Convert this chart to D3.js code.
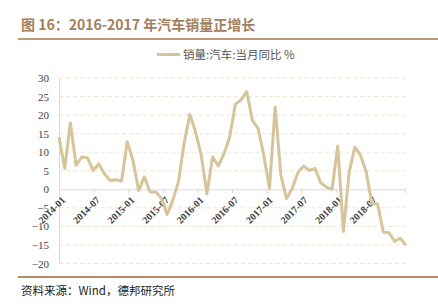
<!DOCTYPE html>
<html>
<head>
<meta charset="utf-8">
<script src="https://cdn.jsdelivr.net/npm/d3@7.9.0/dist/d3.min.js"></script>
<style>
  body { margin: 0; background: #fff; }
  svg { display: block; }
</style>
</head>
<body>
<svg id="chart" width="438" height="308"></svg>
<script>
// monthly car sales yoy (%), Dec 2013 - Jan 2019
const months = [
  '2013-12',
  '2014-01','2014-02','2014-03','2014-04','2014-05','2014-06','2014-07','2014-08','2014-09','2014-10','2014-11','2014-12',
  '2015-01','2015-02','2015-03','2015-04','2015-05','2015-06','2015-07','2015-08','2015-09','2015-10','2015-11','2015-12',
  '2016-01','2016-02','2016-03','2016-04','2016-05','2016-06','2016-07','2016-08','2016-09','2016-10','2016-11','2016-12',
  '2017-01','2017-02','2017-03','2017-04','2017-05','2017-06','2017-07','2017-08','2017-09','2017-10','2017-11','2017-12',
  '2018-01','2018-02','2018-03','2018-04','2018-05','2018-06','2018-07','2018-08','2018-09','2018-10','2018-11','2018-12',
  '2019-01'
];
const salesYoy = [
  14.1, 5.6, 17.9, 6.5, 8.7, 8.5, 5.1, 6.8, 4.1, 2.4, 2.6, 2.2,
  12.8, 7.8, -0.3, 3.3, -0.7, -0.7, -2.4, -6.8, -3.0, 2.0, 12.5, 20.2,
  15.5, 9.2, -1.2, 8.7, 6.3, 9.6, 14.1, 22.9, 24.1, 26.3, 18.6, 16.4,
  9.2, 0.2, 22.2, 3.8, -2.5, 0.2, 4.5, 6.2, 5.1, 5.6, 1.8, 0.6,
  0.0, 11.7, -11.4, 4.5, 11.4, 9.2, 4.7, -3.9, -3.9, -11.5, -11.7, -14.0,
  -13.2, -15.1
];
const tickLabels = ['2014-01','2014-07','2015-01','2015-07','2016-01','2016-07','2017-01','2017-07','2018-01','2018-07','2019-01'];
const yTicks = [-20, -15, -10, -5, 0, 5, 10, 15, 20, 25, 30];

const seriesName = '销量:汽车:当月同比 %';
const title = '图 16：2016-2017 年汽车销量正增长';
const source = '资料来源：Wind，德邦研究所';

const lineColor = '#d6c49b';
const brown = '#a3805c';
const serif = '"Liberation Serif", "DejaVu Serif", serif';
const cjk = '"Noto Sans CJK SC", sans-serif';

const svg = d3.select('#chart');
const plotL = 59, plotR = 405, plotT = 78, plotB = 263.5;

const x = d3.scalePoint(months, [plotL, 406]);
const xt = d3.scalePoint(tickLabels, [plotL, plotR]);
const y = d3.scaleLinear([-20, 30], [plotB, plotT]);

// title + rules
svg.append('text')
  .attr('x', 21).attr('y', 30)
  .attr('font-family', cjk).attr('font-weight', 'bold')
  .attr('font-size', 14).attr('fill', brown)
  .text(title);
svg.append('line')
  .attr('x1', 18).attr('x2', 438).attr('y1', 39).attr('y2', 39)
  .attr('stroke', '#b89a7a').attr('stroke-width', 2);
svg.append('line')
  .attr('x1', 18).attr('x2', 438).attr('y1', 277).attr('y2', 277)
  .attr('stroke', '#b08c6c').attr('stroke-width', 2);

// legend
svg.append('line')
  .attr('x1', 157).attr('x2', 180).attr('y1', 54.5).attr('y2', 54.5)
  .attr('stroke', lineColor).attr('stroke-width', 3);
svg.append('text')
  .attr('x', 183).attr('y', 58.5)
  .attr('font-family', cjk).attr('font-size', 11.5)
  .attr('fill', '#555')
  .text(seriesName);

// grid
svg.append('g')
  .selectAll('line')
  .data(yTicks.filter(d => d !== 0))
  .join('line')
  .attr('x1', plotL).attr('x2', plotR)
  .attr('y1', d => y(d)).attr('y2', d => y(d))
  .attr('stroke', '#ebe4cf').attr('stroke-width', 1)
  .attr('stroke-dasharray', '4,3');

// y axis
const yAxis = svg.append('g')
  .attr('transform', `translate(${plotL},0)`)
  .call(d3.axisLeft(y).tickValues(yTicks).tickSize(0).tickPadding(10));
yAxis.select('.domain').attr('stroke', '#d9d9d9');
yAxis.selectAll('text')
  .attr('font-family', serif).attr('font-size', 11)
  .attr('fill', '#404040');

// x axis at zero
const xAxis = svg.append('g')
  .attr('transform', `translate(0,${y(0)})`)
  .call(d3.axisBottom(xt).tickSize(4).tickSizeOuter(0)
    .tickFormat(d => d === '2019-01' ? '' : d));
xAxis.select('.domain').attr('stroke', '#d9d9d9');
xAxis.selectAll('.tick line').attr('stroke', '#d9d9d9');
xAxis.selectAll('text')
  .attr('font-family', serif).attr('font-size', 10)
  .attr('font-weight', 'bold').attr('fill', '#404040')
  .attr('text-anchor', 'end')
  .attr('transform', 'translate(4,9) rotate(-45)')
  .attr('x', 0).attr('y', 0).attr('dy', '0.35em');

// series
const line = d3.line()
  .x((d, i) => x(months[i]))
  .y(d => y(d));
svg.append('path')
  .datum(salesYoy)
  .attr('d', line)
  .attr('fill', 'none')
  .attr('stroke', lineColor)
  .attr('stroke-width', 3)
  .attr('stroke-linejoin', 'round');

// source
svg.append('text')
  .attr('x', 21).attr('y', 295)
  .attr('font-family', cjk).attr('font-size', 11.5)
  .attr('fill', '#222')
  .text(source);
</script>
</body>
</html>
